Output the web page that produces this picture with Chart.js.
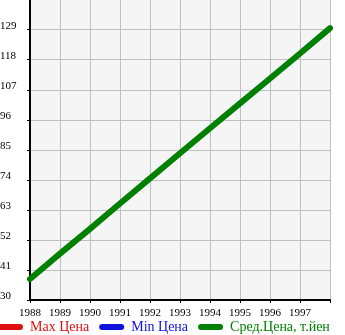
<!DOCTYPE html>
<html><head><meta charset="utf-8">
<script src="https://cdn.jsdelivr.net/npm/chart.js@4"></script>
<style>html,body{margin:0;padding:0;background:#fff;overflow:hidden}canvas{display:block}</style>
</head><body>
<canvas id="c" width="345" height="335"></canvas>
<script>
const years = ['1988','1989','1990','1991','1992','1993','1994','1995','1996','1997','1998'];
const xTickLabels = ['1988','1989','1990','1991','1992','1993','1994','1995','1996','1997'];
const yTickValues = [30,41,52,63,74,85,96,107,118,129];
const seriesNames = ['Max Цена','Min Цена','Сред.Цена, т.йен'];
const seriesColors = ['#dd1111','#1111dd','#008000'];
const maxPrice = [];
const minPrice = [];
const avgPrice = [37.7, 47.0, 56.1, 65.4, 74.6, 83.8, 93.0, 102.1, 111.2, 120.4, 129.7];

const FONT = 'Liberation Serif';

const bgPlugin = {
  id: 'plotBg',
  afterLayout(chart) {
    const x = chart.scales.x;
    if (x) x.bottom = x.top + 30;
  },
  beforeDraw(chart) {
    const a = chart.chartArea, ctx = chart.ctx;
    ctx.save();
    ctx.fillStyle = '#f5f5f5';
    ctx.fillRect(a.left, a.top, a.right - a.left, a.bottom - a.top);
    ctx.restore();
  }
};

const dummy = (pos, w, weight) => ({
  type: 'linear', position: pos, display: true, weight: weight,
  grid: {display: false}, border: {display: false}, ticks: {display: false},
  afterFit: s => { s.width = w; s.paddingTop = 0; s.paddingBottom = 0; }
});

new Chart(document.getElementById('c'), {
  type: 'line',
  data: {
    labels: years,
    datasets: [
      {label: seriesNames[0], data: maxPrice, borderColor: seriesColors[0], backgroundColor: seriesColors[0], borderWidth: 6, pointRadius: 0, yAxisID: 'y'},
      {label: seriesNames[1], data: minPrice, borderColor: seriesColors[1], backgroundColor: seriesColors[1], borderWidth: 6, pointRadius: 0, yAxisID: 'y'},
      {label: seriesNames[2], data: avgPrice, borderColor: seriesColors[2], backgroundColor: seriesColors[2], borderWidth: 6, pointRadius: 0, tension: 0, borderCapStyle: 'round', borderJoinStyle: 'round', fill: false, yAxisID: 'y'}
    ]
  },
  options: {
    responsive: false,
    animation: false,
    devicePixelRatio: 1,
    layout: {padding: {left: -12, right: -10, top: 0, bottom: -9}},
    scales: {
      x: {
        type: 'category', offset: false,
        grid: {color: '#c0c0c0', lineWidth: 1, tickColor: '#000', tickLength: 3},
        border: {color: '#000', width: 2},
        ticks: {
          color: '#000', font: {family: FONT, size: 11}, padding: 4,
          maxRotation: 0, autoSkip: false,
          callback: (v, i) => i < xTickLabels.length ? xTickLabels[i] : ''
        },
        afterFit: s => { s.height = 10; s.paddingLeft = 0; s.paddingRight = 0; }
      },
      y: {
        type: 'linear', position: 'left', weight: 0, min: 30, max: 140,
        afterBuildTicks: s => { s.ticks = yTickValues.map(v => ({value: v})); },
        grid: {color: '#c0c0c0', lineWidth: 1, tickColor: '#000', tickLength: 3},
        border: {color: '#000', width: 2},
        ticks: {
          color: '#000', font: {family: FONT, size: 11}, crossAlign: 'far', labelOffset: -4,
          autoSkip: false, callback: v => String(v)
        },
        afterFit: s => { s.width = 30; s.paddingTop = 0; s.paddingBottom = 0; }
      },
      yPad: dummy('left', 12, 10),
      yR: dummy('right', 25, 10)
    },
    plugins: {
      tooltip: {enabled: false},
      legend: {
        position: 'bottom', align: 'start',
        labels: {
          font: {family: FONT, size: 14}, boxWidth: 25, boxHeight: 6, padding: 10,
          useBorderRadius: true, borderRadius: 3,
          generateLabels: chart => chart.data.datasets.map((ds, i) => ({
            text: ds.label, fillStyle: ds.borderColor, strokeStyle: ds.borderColor,
            fontColor: ds.borderColor, lineWidth: 0, hidden: false, datasetIndex: i, borderRadius: 3
          }))
        }
      }
    }
  },
  plugins: [bgPlugin]
});
</script>
</body></html>
